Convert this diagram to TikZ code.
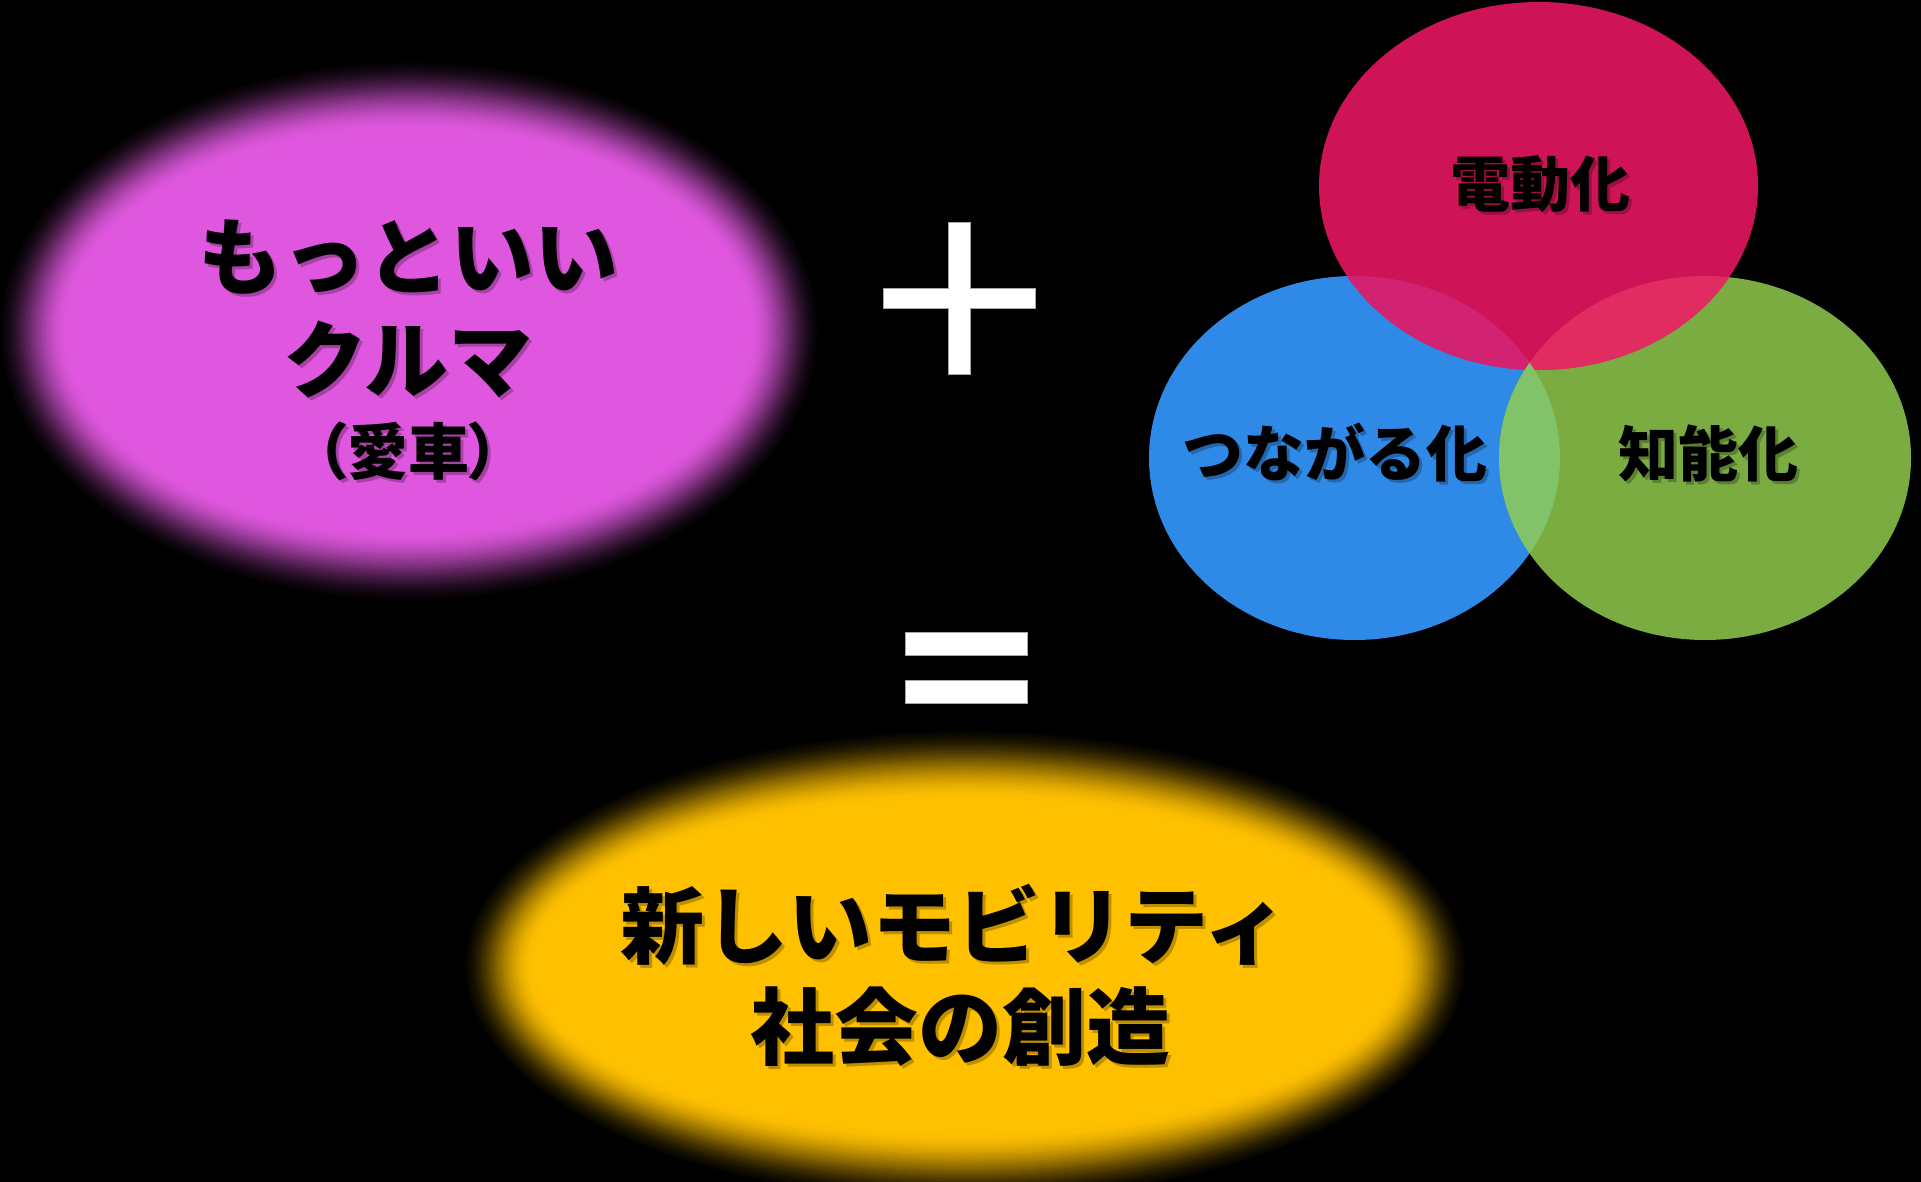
\documentclass[tikz,border=0pt]{standalone}
\usepackage{fontspec}
\newfontfamily\jp{Noto Sans CJK JP}
\newfontfamily\jpp{Noto Sans CJK JP}[RawFeature=+palt]
\definecolor{magentaC}{RGB}{223,87,222}
\definecolor{goldC}{RGB}{255,192,0}
\definecolor{redC}{RGB}{206,19,86}
\definecolor{blueC}{RGB}{47,137,230}
\definecolor{greenC}{RGB}{122,172,66}
\definecolor{rbC}{RGB}{210,35,115}
\definecolor{rgC}{RGB}{224,44,96}
\definecolor{bgC}{RGB}{130,195,105}
\newcommand\softellipse[6]{%
  \foreach \i in {0,...,36} {%
    \pgfmathsetmacro\tt{\i/36}%
    \pgfmathtruncatemacro\mixp{100*\tt*\tt*(3-2*\tt)}%
    \pgfmathsetmacro\rxx{#3-#5*\tt}%
    \pgfmathsetmacro\ryy{#4-#5*\tt}%
    \fill[#6!\mixp!black] (#1,#2) ellipse [x radius=\rxx pt, y radius=\ryy pt];
  }}
\newcommand\shtext[5]{%
  \node[shadowtxt, font={\jp\bfseries\fontsize{#4}{#4}\selectfont}] at ({#2+3},{#3+3}) {#5};
  \node[maintxt, font={\jp\bfseries\fontsize{#4}{#4}\selectfont}] (#1) at (#2,#3) {#5};}
\tikzset{
  maintxt/.style={text=black, inner sep=0pt},
  shadowtxt/.style={text=black, text opacity=0.25, inner sep=0pt},
  signbar/.style={fill=white, draw=gray!70, line width=1pt}
}
\begin{document}
\begin{tikzpicture}[x=1pt, y=-1pt]
\useasboundingbox (0,0) rectangle (1921,1182);
\fill[black] (0,0) rectangle (1921,1182);

% soft ellipses
\softellipse{409}{331}{416}{276}{74}{magentaC}
\softellipse{965}{966}{507}{242}{74}{goldC}

% plus sign
\draw[signbar] (948,223) -- (970,223) -- (970,288) -- (1035,288) -- (1035,308)
  -- (970,308) -- (970,374) -- (948,374) -- (948,308) -- (883,308) -- (883,288)
  -- (948,288) -- cycle;
% equals sign
\draw[signbar] (905,632) rectangle (1027,655);
\draw[signbar] (905,680) rectangle (1027,703);

% Venn
\fill[blueC] (1354.5,458) ellipse [x radius=205.5pt, y radius=182pt];
\fill[greenC] (1705,458) ellipse [x radius=206pt, y radius=182pt];
\fill[redC] (1538.5,186) ellipse [x radius=219.5pt, y radius=184pt];
\begin{scope}
  \clip (1538.5,186) ellipse [x radius=219.5pt, y radius=184pt];
  \fill[rbC] (1354.5,458) ellipse [x radius=205.5pt, y radius=182pt];
  \fill[rgC] (1705,458) ellipse [x radius=206pt, y radius=182pt];
\end{scope}
\begin{scope}
  \clip (1354.5,458) ellipse [x radius=205.5pt, y radius=182pt];
  \fill[bgC] (1705,458) ellipse [x radius=206pt, y radius=182pt];
\end{scope}

% texts
\shtext{t1}{408}{257}{84}{もっといい}
\shtext{t2}{408}{359}{84}{クルマ}
\node[shadowtxt, font={\jpp\bfseries\fontsize{61}{61}\selectfont}] at (411,454) {（愛車）};
\node[maintxt, font={\jpp\bfseries\fontsize{61}{61}\selectfont}] (t3) at (408,451) {（愛車）};
\shtext{v1}{1540}{184}{60}{電動化}
\shtext{v2}{1335}{453}{61}{つながる化}
\shtext{v3}{1708}{453}{60}{知能化}
\shtext{b1}{954}{925}{84}{新しいモビリティ}
\shtext{b2}{960}{1027}{84}{社会の創造}
\end{tikzpicture}
\end{document}
